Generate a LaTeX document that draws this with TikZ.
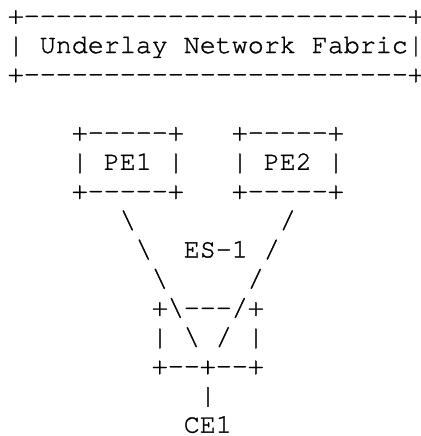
\documentclass[tikz,border=0pt]{standalone}
\usepackage{fontspec}
\setmonofont{TeX Gyre Cursor}[FakeBold=1.2]
\begin{document}
\begin{tikzpicture}[x=1pt,y=-1pt,
  asc/.style={font=\ttfamily\fontsize{26.67}{29.2}\selectfont, anchor=base west, inner sep=0pt, outer sep=0pt, text=black}]
\useasboundingbox[fill=white] (0,0) rectangle (420,436);
\def\cx#1{7.8+16*#1}
\def\ry#1{23.8+29.2*#1}
% fabric box
\node[asc] (fabtop) at ({\cx{0}},{\ry{0}}) {+------------------------+};
\node[asc] (fabric) at ({\cx{0}},{\ry{1}}) {| Underlay Network Fabric|};
\node[asc] (fabbot) at ({\cx{0}},{\ry{2}}) {+------------------------+};
% PE boxes
\node[asc] (pe1top) at ({\cx{4}},{\ry{4}}) {+-----+};
\node[asc] (pe2top) at ({\cx{14}},{\ry{4}}) {+-----+};
\node[asc] (pe1) at ({\cx{4}},{\ry{5}}) {| PE1 |};
\node[asc] (pe2) at ({\cx{14}},{\ry{5}}) {| PE2 |};
\node[asc] (pe1bot) at ({\cx{4}},{\ry{6}}) {+-----+};
\node[asc] (pe2bot) at ({\cx{14}},{\ry{6}}) {+-----+};
% links
\node[asc] (la1) at ({\cx{7}},{\ry{7}}) {\textbackslash};
\node[asc] (lb1) at ({\cx{17}},{\ry{7}}) {/};
\node[asc] (la2) at ({\cx{8}},{\ry{8}}) {\textbackslash};
\node[asc] (es) at ({\cx{11}},{\ry{8}}) {ES-1};
\node[asc] (lb2) at ({\cx{16}},{\ry{8}}) {/};
\node[asc] (la3) at ({\cx{9}},{\ry{9}}) {\textbackslash};
\node[asc] (lb3) at ({\cx{15}},{\ry{9}}) {/};
% ES box
\node[asc] (estop) at ({\cx{9}},{\ry{10}}) {+\textbackslash---/+};
\node[asc] (esl) at ({\cx{9}},{\ry{11}}) {|};
\node[asc] (esa) at ({\cx{11}},{\ry{11}}) {\textbackslash};
\node[asc] (esb) at ({\cx{13}},{\ry{11}}) {/};
\node[asc] (esr) at ({\cx{15}},{\ry{11}}) {|};
\node[asc] (esbot) at ({\cx{9}},{\ry{12}}) {+--+--+};
\node[asc] (cel) at ({\cx{12}},{\ry{13}}) {|};
\node[asc] (ce1) at ({\cx{11}},{\ry{14}}) {CE1};
\end{tikzpicture}
\end{document}
